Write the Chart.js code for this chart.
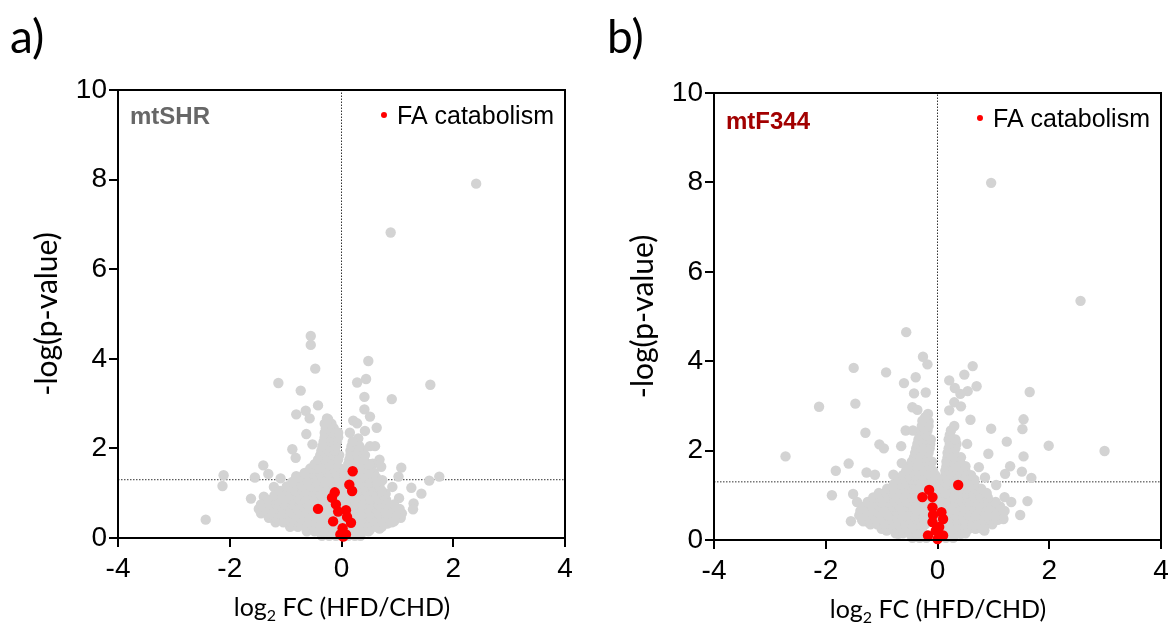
<!DOCTYPE html>
<html><head><meta charset="utf-8">
<script src="https://cdn.jsdelivr.net/npm/chart.js@4/dist/chart.umd.min.js"></script>
<style>
body{margin:0;background:#fff;width:1174px;height:623px;overflow:hidden;position:relative;font-family:'Liberation Sans',Arial,sans-serif}
canvas{position:absolute;top:0}
#cL{left:0}
#cR{left:596px}
.plab{position:absolute;font-family:Lato,'Open Sans',sans-serif;font-size:46px;color:#000;line-height:1}
.xt{position:absolute;width:340px;text-align:center;font-family:Lato,'Open Sans',sans-serif;font-size:25px;line-height:1;color:#000}
.xt sub{font-size:16px;vertical-align:-5px;line-height:0}
</style></head>
<body>
<canvas id="cL" width="590" height="623"></canvas>
<canvas id="cR" width="578" height="623"></canvas>
<div class="plab" style="left:10px;top:13px">a)</div>
<div class="plab" style="left:607px;top:13px">b)</div>
<div class="xt" style="left:172px;top:594px">log<sub>2</sub> FC (HFD/CHD)</div>
<div class="xt" style="left:768px;top:596px">log<sub>2</sub> FC (HFD/CHD)</div>
<script>
// ---- data ----
const xTicks = [-4, -2, 0, 2, 4];
const yTicks = [0, 2, 4, 6, 8, 10];
const pThresholdY = 1.30103; // -log10(0.05)
const panelNames = ['mtSHR', 'mtF344'];
const legendLabel = 'FA catabolism';
const xTitle = 'log2 FC (HFD/CHD)';
const yTitle = '-log(p-value)';

// mtSHR: FA catabolism proteins [log2FC, -log p]
const shrFA = [[0.20,1.49],[0.14,1.19],[0.19,1.05],[-0.12,1.02],[-0.17,0.90],[-0.10,0.75],[-0.42,0.65],[0.08,0.62],[-0.06,0.59],[0.10,0.47],[0.17,0.34],[-0.15,0.37],[0.02,0.22],[-0.02,0.08],[0.08,0.08],[0.03,0.03]];
// mtSHR: other proteins, scattered
const shrOther = [[2.41,7.91],[0.88,6.82],[-0.55,4.51],[-0.55,4.31],[-0.47,3.78],[-1.13,3.46],[-0.73,3.29],[-0.42,2.96],[-0.64,2.84],[-0.81,2.76],[-0.57,2.67],[-0.26,2.67],[-0.63,2.32],[-0.52,2.09],[-0.88,1.98],[-0.82,1.79],[-1.40,1.62],[-1.31,1.43],[-1.55,1.35],[-2.11,1.40],[-2.13,1.16],[-1.62,0.88],[-1.43,0.74],[-2.43,0.41],[-0.81,1.38],[-1.09,1.33],[-1.21,1.14],[-1.33,0.55],[-1.39,0.92],
[0.48,3.95],[0.28,3.47],[0.44,3.55],[0.41,3.15],[1.59,3.42],[0.90,3.10],[0.41,2.87],[0.51,2.71],[0.21,2.62],[0.28,2.56],[0.63,2.46],[0.42,2.39],[0.15,2.35],[0.30,2.22],[0.23,2.07],[0.51,2.05],[0.60,2.05],[0.38,1.96],[0.68,1.75],[0.56,1.66],[1.07,1.57],[0.71,1.59],[1.02,1.37],[1.75,1.37],[1.57,1.28],[1.25,1.12],[1.43,0.99],[1.29,0.77],[1.28,0.64],[1.03,0.89],[0.94,0.58],[0.94,0.37],[0.82,0.32],[0.68,0.21],[0.50,0.17],[0.91,1.14],[0.79,0.99],[0.73,1.29],[0.59,1.25]];
// mtSHR: dense core, read row by row  [-log p, [log2FC values]]
const shrCore = [
[0.05,[-0.35,-0.22,-0.1,0.12,0.24,0.34]],
[0.15,[-0.62,-0.48,-0.34,-0.2,-0.06,0.08,0.22,0.36,0.48]],
[0.25,[-0.92,-0.78,-0.64,-0.5,-0.36,-0.22,-0.08,0.06,0.2,0.34,0.48,0.62,0.72]],
[0.35,[-1.18,-1.04,-0.9,-0.76,-0.62,-0.48,-0.34,-0.2,-0.06,0.08,0.22,0.36,0.5,0.64,0.78,0.9]],
[0.45,[-1.3,-1.16,-1.02,-0.88,-0.74,-0.6,-0.46,-0.32,-0.18,-0.04,0.1,0.24,0.38,0.52,0.66,0.8,0.94,1.06]],
[0.55,[-1.44,-1.3,-1.16,-1.02,-0.88,-0.74,-0.6,-0.46,-0.32,-0.18,-0.04,0.1,0.24,0.38,0.52,0.66,0.8,0.94,1.08]],
[0.65,[-1.48,-1.34,-1.2,-1.06,-0.92,-0.78,-0.64,-0.5,-0.36,-0.22,-0.08,0.06,0.2,0.34,0.48,0.62,0.76,0.9,1.04]],
[0.75,[-1.44,-1.3,-1.16,-1.02,-0.88,-0.74,-0.6,-0.46,-0.32,-0.18,-0.04,0.1,0.24,0.38,0.52,0.66,0.8,0.94]],
[0.85,[-1.3,-1.16,-1.02,-0.88,-0.74,-0.6,-0.46,-0.32,-0.18,-0.04,0.1,0.24,0.38,0.52,0.66,0.8]],
[0.95,[-1.2,-1.06,-0.92,-0.78,-0.64,-0.5,-0.36,-0.22,-0.08,0.06,0.2,0.34,0.48,0.62,0.76]],
[1.05,[-1.1,-0.96,-0.82,-0.68,-0.54,-0.4,-0.26,-0.12,0.02,0.16,0.3,0.44,0.58,0.72]],
[1.15,[-0.98,-0.84,-0.7,-0.56,-0.42,-0.28,-0.14,0.0,0.14,0.28,0.42,0.56,0.68]],
[1.25,[-0.88,-0.74,-0.6,-0.46,-0.32,-0.18,-0.04,0.1,0.24,0.38,0.52,0.64]],
[1.35,[-0.76,-0.62,-0.48,-0.34,-0.2,-0.06,0.08,0.22,0.36,0.5,0.62]],
[1.45,[-0.66,-0.52,-0.38,-0.24,-0.1,0.04,0.18,0.32,0.46,0.58]],
[1.55,[-0.56,-0.42,-0.28,-0.14,-0.02,0.12,0.26,0.4,0.52]],
[1.65,[-0.48,-0.35,-0.22,-0.1,0.12,0.24,0.38,0.5]],
[1.75,[-0.42,-0.3,-0.18,-0.06,0.14,0.26,0.4]],
[1.85,[-0.38,-0.26,-0.14,-0.04,0.16,0.28,0.42]],
[1.95,[-0.36,-0.24,-0.12,0.16,0.3]],
[2.05,[-0.34,-0.22,-0.1,0.18,0.32]],
[2.15,[-0.32,-0.2,-0.08,0.2]],
[2.25,[-0.3,-0.18,-0.06]],
[2.35,[-0.3,-0.16,-0.06]],
[2.45,[-0.28,-0.14]],
[2.55,[-0.3,-0.18]],
[2.65,[-0.24]]
];

// mtF344: FA catabolism proteins
const f344FA = [[0.37,1.23],[-0.15,1.12],[-0.09,0.96],[-0.27,0.96],[-0.09,0.73],[0.07,0.62],[-0.08,0.56],[0.10,0.47],[-0.09,0.40],[0.03,0.29],[-0.03,0.21],[-0.17,0.10],[0.10,0.10],[0.0,0.02]];
// mtF344: other proteins, scattered
const f344Other = [[0.96,7.99],[2.56,5.35],[-0.56,4.65],[-0.26,4.10],[-0.18,3.93],[-1.50,3.85],[-0.92,3.75],[-0.39,3.64],[-0.60,3.51],[-0.42,3.28],[-0.21,3.30],[-2.12,2.98],[-1.47,3.05],[-0.45,2.97],[-0.36,2.91],[-0.17,2.82],[-0.27,2.67],[-1.29,2.40],[-0.57,2.45],[-0.44,2.45],[-1.04,2.14],[-0.96,2.05],[-0.65,2.10],[-2.72,1.87],[-1.59,1.71],[-1.82,1.55],[-1.27,1.51],[-1.12,1.46],[-0.79,1.46],[-0.64,1.72],[-1.89,1.00],[-1.51,1.03],[-1.44,0.85],[-1.27,0.73],[-1.55,0.42],[-1.33,0.42],[-1.24,0.40],[-1.09,0.47],[-0.97,1.03],[-0.91,0.21],[-0.70,0.14],
[0.63,3.89],[0.48,3.70],[0.21,3.57],[0.70,3.44],[0.31,3.40],[0.54,3.33],[0.41,3.27],[1.65,3.31],[0.30,3.08],[0.42,2.99],[0.21,2.90],[0.59,2.69],[1.54,2.70],[1.52,2.48],[0.96,2.49],[1.24,2.20],[1.99,2.11],[2.99,1.99],[0.91,1.93],[1.54,1.87],[0.53,2.15],[0.74,1.63],[1.30,1.65],[1.21,1.48],[1.51,1.53],[1.68,1.39],[0.85,1.40],[1.05,1.23],[1.61,0.87],[1.48,0.56],[1.18,0.47],[1.32,0.85],[1.20,0.96],[0.96,0.51],[0.84,0.21],[0.42,0.14]];
// mtF344: dense core, read row by row
const f344Core = [
[0.05,[-0.45,-0.32,-0.2,0.15,0.28]],
[0.15,[-0.75,-0.62,-0.5,-0.38,-0.26,0.14,0.26,0.38,0.5]],
[0.25,[-1.0,-0.88,-0.76,-0.64,-0.52,-0.4,-0.28,0.08,0.2,0.32,0.44,0.56,0.68,0.8]],
[0.35,[-1.2,-1.08,-0.95,-0.82,-0.7,-0.58,-0.46,-0.34,-0.22,0.14,0.26,0.38,0.5,0.62,0.74,0.86,0.98]],
[0.45,[-1.35,-1.22,-1.1,-0.97,-0.84,-0.72,-0.6,-0.48,-0.36,-0.24,0.0,0.24,0.36,0.48,0.6,0.72,0.84,0.96,1.08]],
[0.55,[-1.4,-1.27,-1.14,-1.01,-0.88,-0.76,-0.64,-0.52,-0.4,-0.28,-0.16,0.2,0.32,0.44,0.56,0.68,0.8,0.92,1.04,1.16]],
[0.65,[-1.38,-1.25,-1.12,-0.99,-0.86,-0.74,-0.62,-0.5,-0.38,-0.26,0.2,0.34,0.46,0.58,0.7,0.82,0.94,1.06,1.2]],
[0.75,[-1.3,-1.17,-1.04,-0.92,-0.8,-0.68,-0.56,-0.44,-0.32,-0.2,0.04,0.16,0.28,0.4,0.52,0.64,0.76,0.88,1.0,1.12]],
[0.85,[-1.25,-1.12,-1.0,-0.88,-0.76,-0.64,-0.52,-0.4,-0.28,-0.16,-0.04,0.08,0.2,0.32,0.44,0.56,0.68,0.8,0.92,1.04]],
[0.95,[-1.15,-1.02,-0.9,-0.78,-0.66,-0.54,-0.42,-0.3,-0.18,-0.06,0.06,0.18,0.3,0.42,0.54,0.66,0.78,0.9]],
[1.05,[-1.05,-0.92,-0.8,-0.68,-0.56,-0.44,-0.32,-0.2,-0.08,0.04,0.16,0.28,0.4,0.52,0.64,0.76,0.88]],
[1.15,[-0.9,-0.78,-0.66,-0.54,-0.42,-0.3,-0.2,-0.06,0.06,0.18,0.3,0.42,0.54,0.66,0.78]],
[1.25,[-0.78,-0.66,-0.54,-0.42,-0.3,-0.18,-0.06,0.06,0.18,0.3,0.42,0.54,0.66]],
[1.35,[-0.7,-0.58,-0.46,-0.34,-0.22,-0.1,0.06,0.18,0.3,0.42,0.54,0.66]],
[1.45,[-0.62,-0.5,-0.38,-0.26,-0.14,-0.04,0.14,0.26,0.38,0.5,0.6]],
[1.55,[-0.56,-0.44,-0.32,-0.2,-0.08,0.14,0.26,0.38,0.5]],
[1.65,[-0.5,-0.38,-0.26,-0.14,0.16,0.28,0.4,0.5]],
[1.75,[-0.46,-0.34,-0.22,-0.1,0.16,0.28,0.4]],
[1.85,[-0.42,-0.3,-0.18,0.18,0.3,0.42]],
[1.95,[-0.4,-0.28,-0.16,0.18,0.3]],
[2.05,[-0.38,-0.26,-0.14,0.2,0.32]],
[2.15,[-0.36,-0.24,-0.13,0.22,0.34]],
[2.25,[-0.34,-0.22,-0.12,0.2,0.32]],
[2.35,[-0.32,-0.2,0.22]],
[2.45,[-0.3,-0.18,0.24]],
[2.55,[-0.28,-0.16,0.3]],
[2.65,[-0.26,-0.16]],
[2.75,[-0.22]]
];

// ---- build ----
const toPts = arr => arr.map(p => ({x: p[0], y: p[1]}));
const rowsToPts = rows => rows.flatMap(r => r[1].map(x => ({x: x, y: r[0]})));

const panelText = {
  id: 'panelText',
  afterDraw(chart, args, o) {
    const {ctx, chartArea: a} = chart;
    ctx.save();
    ctx.lineWidth = 2; ctx.strokeStyle = '#000';
    ctx.strokeRect(a.left, a.top, a.right - a.left, a.bottom - a.top);
    ctx.textBaseline = 'alphabetic';
    ctx.font = 'bold 24px "Liberation Sans", Arial, sans-serif';
    ctx.fillStyle = o.color; ctx.textAlign = 'left';
    ctx.fillText(o.name, a.left + 12, a.top + o.nameDy);
    ctx.font = '25px "Liberation Sans", Arial, sans-serif';
    ctx.fillStyle = '#000'; ctx.textAlign = 'right';
    ctx.fillText(legendLabel, a.right - 11, a.top + 34);
    const w = ctx.measureText(legendLabel).width;
    ctx.beginPath(); ctx.arc(a.right - 11 - w - 13, a.top + 25, 3, 0, Math.PI * 2);
    ctx.fillStyle = '#ff0000'; ctx.fill();
    ctx.restore();
  }
};

function makeChart(id, grey, red, cfg) {
  const tickFont = {family: '"Liberation Sans", Arial, sans-serif', size: 28};
  const gridCfg = {drawOnChartArea: false, drawTicks: true, tickLength: 9, color: '#000', lineWidth: 2};
  const dotted = {type: 'line', borderColor: '#333', borderWidth: 1, borderDash: [1.5, 1.5], pointRadius: 0, fill: false, order: 3};
  return new Chart(document.getElementById(id), {
    type: 'scatter',
    data: {datasets: [
      {label: legendLabel, data: red, backgroundColor: '#ff0000', pointRadius: 5.2, pointHoverRadius: 5.2, borderWidth: 0, order: 0, clip: false},
      {label: 'other', data: grey, backgroundColor: '#d3d3d3', pointRadius: 5.2, pointHoverRadius: 5.2, borderWidth: 0, order: 1, clip: false},
      Object.assign({data: [{x: 0, y: 0}, {x: 0, y: 10}]}, dotted),
      Object.assign({data: [{x: -4, y: pThresholdY}, {x: 4, y: pThresholdY}]}, dotted)
    ]},
    options: {
      responsive: false, animation: false, devicePixelRatio: 1,
      layout: {padding: {top: cfg.top, left: 27, right: cfg.right, bottom: 0}},
      events: [],
      plugins: {legend: {display: false}, tooltip: {enabled: false},
        panelText: {name: cfg.name, color: cfg.color, nameDy: cfg.nameDy}},
      scales: {
        x: {type: 'linear', min: -4, max: 4, z: 1,
          afterBuildTicks: s => { s.ticks = xTicks.map(v => ({value: v})); },
          ticks: {font: tickFont, color: '#000', padding: 5, maxRotation: 0},
          grid: gridCfg, border: {color: '#000', width: 2},
          afterFit: s => { s.height = cfg.xh; }},
        y: {type: 'linear', min: 0, max: 10, z: 1,
          afterBuildTicks: s => { s.ticks = yTicks.map(v => ({value: v})); },
          ticks: {font: tickFont, color: '#000', padding: 2},
          grid: gridCfg, border: {color: '#000', width: 2},
          title: {display: true, text: yTitle, color: '#000', font: {family: 'Lato, "Open Sans", sans-serif', size: 30}, padding: {top: 2, bottom: 0}},
          afterFit: s => { s.width = 91; }}
      }
    },
    plugins: [panelText]
  });
}

makeChart('cL', toPts(shrOther).concat(rowsToPts(shrCore)), toPts(shrFA),
  {top: 90, right: 25, xh: 85, name: panelNames[0], color: '#676767', nameDy: 34});
makeChart('cR', toPts(f344Other).concat(rowsToPts(f344Core)), toPts(f344FA),
  {top: 93, right: 13, xh: 83, name: panelNames[1], color: '#a20000', nameDy: 36});
</script>
</body></html>
